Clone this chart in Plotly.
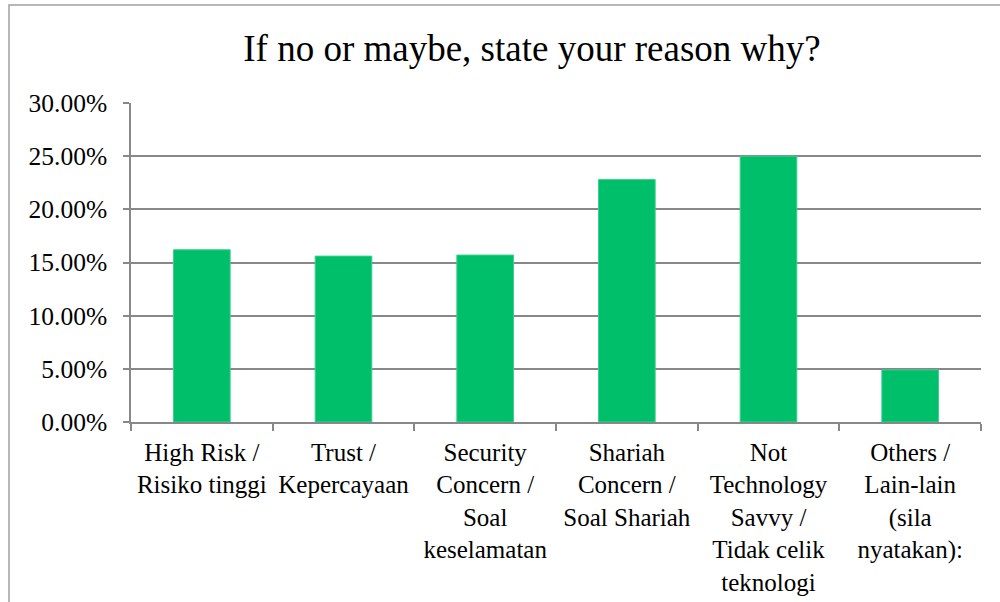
import plotly.graph_objects as go

categories = [
    "High Risk /<br>Risiko tinggi",
    "Trust /<br>Kepercayaan",
    "Security<br>Concern /<br>Soal<br>keselamatan",
    "Shariah<br>Concern /<br>Soal Shariah",
    "Not<br>Technology<br>Savvy /<br>Tidak celik<br>teknologi",
    "Others /<br>Lain-lain<br>(sila<br>nyatakan):",
]
values = [0.162, 0.156, 0.157, 0.228, 0.250, 0.049]
title_text = "If no or maybe, state your reason why?"

FONT = "Liberation Serif, Times New Roman, serif"
GRID = "#888888"

fig = go.Figure(
    go.Bar(
        x=categories,
        y=values,
        marker=dict(color="#00BF6B", line=dict(color="#3CD08E", width=1)),
        width=0.4,
    )
)

fig.update_layout(
    width=1000,
    height=602,
    margin=dict(l=131, r=19, t=103, b=180, autoexpand=False),
    paper_bgcolor="white",
    plot_bgcolor="white",
    showlegend=False,
    font=dict(family=FONT, size=25.5, color="black"),
    title=dict(
        text=title_text,
        font=dict(family=FONT, size=37, color="black"),
        x=0.532,
        xanchor="center",
        xref="container",
        y=1 - 48 / 602,
        yanchor="middle",
        yref="container",
    ),
    xaxis=dict(
        automargin=False,
        showgrid=False,
        showline=True,
        linecolor=GRID,
        linewidth=1.5,
        ticks="outside",
        tickson="boundaries",
        ticklen=7,
        tickcolor=GRID,
        tickwidth=1.5,
        tickangle=0,
        ticklabelstandoff=7,
        tickfont=dict(family=FONT, size=25, color="black"),
    ),
    yaxis=dict(
        automargin=False,
        range=[0, 0.30],
        dtick=0.05,
        tickformat=".2%",
        showgrid=True,
        gridcolor=GRID,
        gridwidth=1.5,
        showline=True,
        linecolor=GRID,
        linewidth=1.5,
        ticks="outside",
        ticklen=6,
        tickcolor=GRID,
        tickwidth=1.5,
        zeroline=False,
        tickfont=dict(family=FONT, size=25.5, color="black"),
        ticklabelstandoff=11,
    ),
)

# outer chart frame (partially cut off at right and bottom as in the reference)
fig.add_shape(
    type="rect",
    xref="paper",
    yref="paper",
    x0=(9 - 131) / 850,
    x1=1.2,
    y0=-1.0,
    y1=1 + (103 - 5) / 319,
    line=dict(color="#A0A0A0", width=1.5),
    fillcolor="rgba(0,0,0,0)",
    layer="below",
)

fig.write_html(
    "out.html",
    config={"displayModeBar": False},
    post_script="document.body.style.margin='0';document.body.style.overflow='hidden';",
)
